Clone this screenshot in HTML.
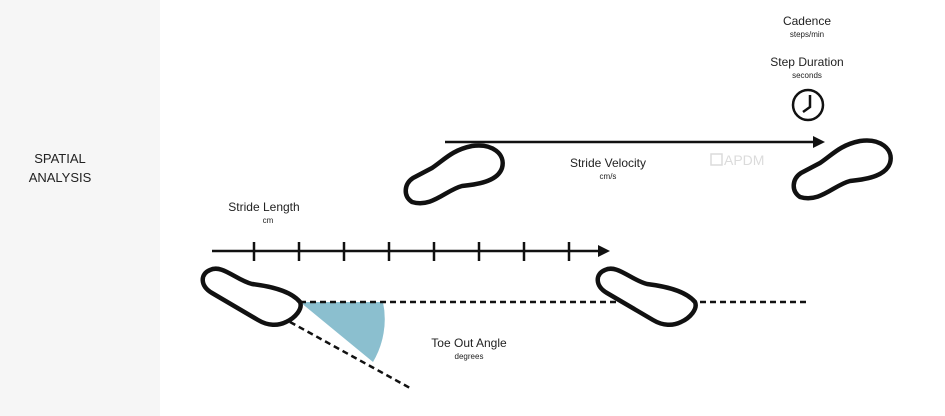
<!DOCTYPE html>
<html><head><meta charset="utf-8"><style>
body{margin:0;width:945px;height:416px;background:#fff;overflow:hidden;font-family:"Liberation Sans",sans-serif}
</style></head><body>
<svg width="945" height="416" viewBox="0 0 945 416" style="display:block">
<rect x="0" y="0" width="160" height="416" fill="#f6f6f6"/>
<text x="60" y="163" text-anchor="middle" font-size="13" fill="#222">SPATIAL</text>
<text x="60" y="182" text-anchor="middle" font-size="13" fill="#222">ANALYSIS</text>

<path d="M300,302 L383,302 A84,84 0 0 1 373,362 Z" fill="#8bbfcf"/>
<line x1="300" y1="302" x2="810" y2="302" stroke="#111" stroke-width="2.5" stroke-dasharray="6,4"/>
<line x1="290" y1="322" x2="410" y2="388" stroke="#111" stroke-width="2.5" stroke-dasharray="6,4"/>

<g stroke="#111" stroke-width="2.5">
<line x1="212" y1="251" x2="600" y2="251"/>
<line x1="254" y1="242" x2="254" y2="261"/><line x1="299" y1="242" x2="299" y2="261"/>
<line x1="344" y1="242" x2="344" y2="261"/><line x1="389" y1="242" x2="389" y2="261"/>
<line x1="434" y1="242" x2="434" y2="261"/><line x1="479" y1="242" x2="479" y2="261"/>
<line x1="524" y1="242" x2="524" y2="261"/><line x1="569" y1="242" x2="569" y2="261"/>
<polygon points="598,245 610,251 598,257" fill="#111" stroke="none"/>
</g>
<g>
<line x1="445" y1="142" x2="815" y2="142" stroke="#111" stroke-width="2.5"/>
<polygon points="813,136 825,142 813,148" fill="#111"/>
</g>

<g fill="#fff" stroke="#111" stroke-width="4.5" stroke-linejoin="round">
<path d="M210,270 C222,264 236,280 252,284 C268,286 290,290 300,302 C303,309 295,318 286,322 C278,326 268,326 258,320 L212,293 C200,286 200,274 210,270 Z"/>
<path transform="translate(395,0)" d="M210,270 C222,264 236,280 252,284 C268,286 290,290 300,302 C303,309 295,318 286,322 C278,326 268,326 258,320 L212,293 C200,286 200,274 210,270 Z"/>
<path d="M412,202 C403,196 404,184 413,178 L432,168 C444,160 452,150 472,146 C492,143 506,154 502,168 C498,180 482,184 462,186 C446,190 432,208 412,202 Z"/>
<path transform="translate(388,-5)" d="M412,202 C403,196 404,184 413,178 L432,168 C444,160 452,150 472,146 C492,143 506,154 502,168 C498,180 482,184 462,186 C446,190 432,208 412,202 Z"/>
</g>

<g fill="none" stroke="#111" stroke-width="2.5">
<circle cx="808" cy="105" r="15"/>
<polyline points="810,95 810,107 803,112"/>
</g>

<g fill="#222" text-anchor="middle">
<text x="807" y="25" font-size="12">Cadence</text>
<text x="807" y="37" font-size="8">steps/min</text>
<text x="807" y="66" font-size="12">Step Duration</text>
<text x="807" y="78" font-size="8">seconds</text>
<text x="608" y="167" font-size="12">Stride Velocity</text>
<text x="608" y="179" font-size="8">cm/s</text>
<text x="264" y="211" font-size="12">Stride Length</text>
<text x="268" y="223" font-size="8">cm</text>
<text x="469" y="347" font-size="12">Toe Out Angle</text>
<text x="469" y="359" font-size="8">degrees</text>
</g>
<g opacity="0.35">
<rect x="711" y="154" width="11" height="11" fill="none" stroke="#999" stroke-width="1.5"/>
<text x="724" y="165" font-size="14" fill="#999">APDM</text>
</g>
</svg>
</body></html>
